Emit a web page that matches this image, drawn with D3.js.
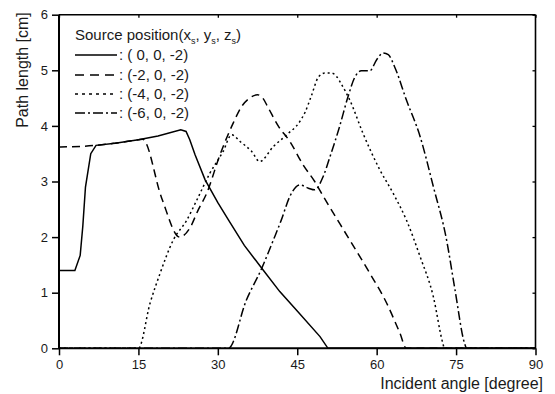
<!DOCTYPE html>
<html><head><meta charset="utf-8">
<script src="https://cdn.jsdelivr.net/npm/d3@7"></script>
<style>body{margin:0;background:#fff}svg{display:block}text{font-family:"Liberation Sans",Arial,sans-serif;fill:#1a1a1a}</style>
</head><body>
<svg id="c" width="555" height="394"></svg>
<script>
const xTicks = [0, 15, 30, 45, 60, 75, 90];
const yTicks = [0, 1, 2, 3, 4, 5, 6];
const seriesNames = [": ( 0, 0, -2)", ": (-2, 0, -2)", ": (-4, 0, -2)", ": (-6, 0, -2)"];

const solidX = [0,3,4,4.5,5,6,7,10.6,15,18.7,23,24,24.7,25.7,27.6,30,32,35,38.3,41.7,45,49.3,50.8,90];
const solidY = [1.4,1.4,1.67,2.2,2.9,3.5,3.65,3.69,3.75,3.82,3.93,3.9,3.75,3.48,3.03,2.62,2.31,1.85,1.44,1.02,0.67,0.21,0,0];

const dashX = [0,7,10.6,15,15.8,19.4,22.8,24.7,26.3,27.9,30.4,32.9,34.5,36,37.5,38.5,39.5,41.4,43.6,46.1,48.3,50,54.9,58.7,61.9,64.4,65.6,90];
const dashY = [3.62,3.65,3.69,3.75,3.76,2.7,2.0,2.16,2.49,2.79,3.48,4.05,4.35,4.5,4.56,4.5,4.33,4.0,3.72,3.3,3.0,2.72,1.95,1.35,0.81,0.27,0,0];

const dotX = [0,15,17.2,19.1,21.6,24.1,26,28.5,31,32.6,34.2,36.4,37.9,40.5,43,45.5,46.5,47.7,49,50.2,51.5,52.5,53.4,54.9,57.4,60.6,63.1,65.6,68.2,70.7,72.5,72.8,90];
const dotY = [0,0,0.81,1.35,1.95,2.3,2.66,3.15,3.54,3.84,3.72,3.54,3.36,3.63,3.84,4.08,4.25,4.55,4.88,4.95,4.95,4.88,4.74,4.47,3.87,3.21,2.79,2.31,1.65,0.93,0.09,0,0];

const dashDotX = [0,32,35.4,38.3,40.5,42,43.6,45.5,47.1,48.3,49.9,51.2,53,54.6,55.9,57.1,58.7,60,61.2,62.2,63.4,65.6,68.2,70.7,73.2,74.8,76.6,77,90];
const dashDotY = [0,0,0.87,1.44,1.95,2.31,2.73,2.94,2.88,2.85,3.09,3.45,3.99,4.53,4.88,4.99,4.99,5.19,5.31,5.28,5.06,4.47,3.81,2.91,1.95,1.05,0.09,0,0];

const svg = d3.select("#c");
const L = 59, R = 535.5, T = 14.7, B = 348.3;
const x = d3.scaleLinear().domain([0, 90]).range([L, R]);
const y = d3.scaleLinear().domain([0, 6]).range([B, T]);

const dashes = [null, "8,5", "2,3", "9,3,2,3"];
const legendDashes = [null, "9,6", "3,4", "10,3,2,3"];
const curves = [d3.curveLinear, d3.curveMonotoneX, d3.curveMonotoneX, d3.curveMonotoneX];
const seriesData = [[solidX, solidY], [dashX, dashY], [dotX, dotY], [dashDotX, dashDotY]];

// frame: top & right
svg.append("line").attr("x1", L).attr("x2", R).attr("y1", T).attr("y2", T).attr("stroke", "#000").attr("stroke-width", 1.6);
svg.append("line").attr("x1", R).attr("x2", R).attr("y1", T).attr("y2", B).attr("stroke", "#000").attr("stroke-width", 1.6);

// top / right inner ticks
const topAx = svg.append("g").attr("transform", `translate(0,${T})`).call(d3.axisBottom(x).tickValues(xTicks).tickSize(3).tickFormat(""));
topAx.select(".domain").remove();
topAx.selectAll("line").attr("stroke-width", 1.3);
const rightAx = svg.append("g").attr("transform", `translate(${R},0)`).call(d3.axisLeft(y).tickValues(yTicks).tickSize(3).tickFormat(""));
rightAx.select(".domain").remove();
rightAx.selectAll("line").attr("stroke-width", 1.3);

seriesData.forEach((s, i) => {
  const pts = s[0].map((v, j) => [v, s[1][j]]);
  const line = d3.line().x(d => x(d[0])).y(d => y(d[1])).curve(curves[i]);
  svg.append("path").datum(pts).attr("d", line).attr("fill", "none")
    .attr("stroke", "#000").attr("stroke-width", 1.5)
    .attr("stroke-dasharray", dashes[i]);
});

// bottom axis
const xAx = svg.append("g").attr("transform", `translate(0,${B})`).call(d3.axisBottom(x).tickValues(xTicks).tickSize(7).tickPadding(4).tickFormat(d3.format("d")));
xAx.select(".domain").attr("stroke-width", 2).attr("d", `M${L},0H${R}`);
xAx.selectAll("line").attr("stroke-width", 1.5);
xAx.selectAll("text").attr("font-size", 13).style("font-family", '"Liberation Sans",Arial,sans-serif').attr("fill", "#222");

const yAx = svg.append("g").attr("transform", `translate(${L},0)`).call(d3.axisLeft(y).tickValues(yTicks).tickSize(7).tickPadding(4).tickFormat(d3.format("d")));
yAx.select(".domain").attr("stroke-width", 2).attr("d", `M0,${B}V${T}`);
yAx.selectAll("line").attr("stroke-width", 1.5);
yAx.selectAll("text").attr("font-size", 13).style("font-family", '"Liberation Sans",Arial,sans-serif').attr("fill", "#222");

// axis titles
svg.append("text").attr("x", 543).attr("y", 389).attr("text-anchor", "end").attr("font-size", 16).text("Incident angle [degree]");
svg.append("text").attr("transform", "translate(28,70) rotate(-90)").attr("text-anchor", "middle").attr("font-size", 16).text("Path length [cm]");

// legend
const lg = svg.append("g");
const t = lg.append("text").attr("x", 75).attr("y", 40).attr("font-size", 15);
t.append("tspan").text("Source position(x");
t.append("tspan").attr("font-size", 9).attr("dy", 4).text("s");
t.append("tspan").attr("dy", -4).text(", y");
t.append("tspan").attr("font-size", 9).attr("dy", 4).text("s");
t.append("tspan").attr("dy", -4).text(", z");
t.append("tspan").attr("font-size", 9).attr("dy", 4).text("s");
t.append("tspan").attr("dy", -4).text(")");
const rowY = [55, 75, 94, 113];
seriesNames.forEach((n, i) => {
  lg.append("line").attr("x1", 75).attr("x2", 117).attr("y1", rowY[i]).attr("y2", rowY[i])
    .attr("stroke", "#000").attr("stroke-width", 1.5).attr("stroke-dasharray", legendDashes[i]);
  lg.append("text").attr("x", 119).attr("y", rowY[i] + 5).attr("font-size", 15).text(n);
});
</script>
</body></html>
